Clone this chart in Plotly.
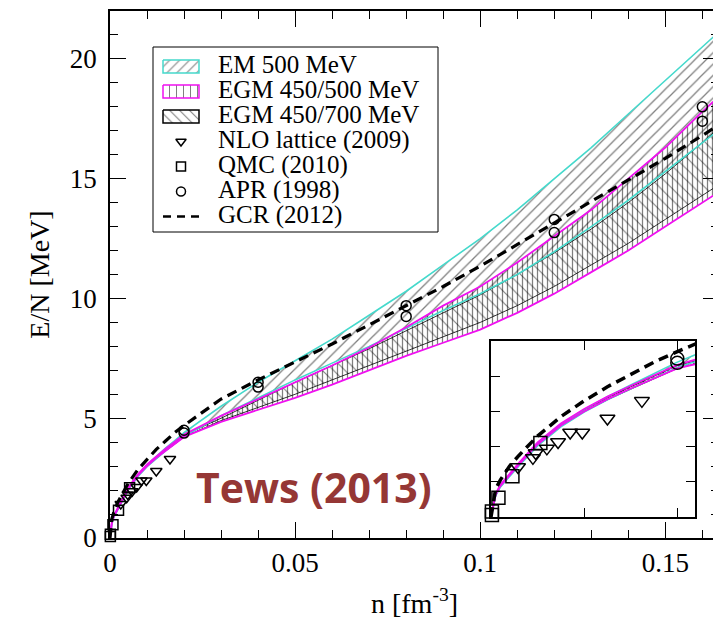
import plotly.graph_objects as go

# ---------------- data ----------------
n_grid = [0, 0.0005, 0.001, 0.002, 0.003, 0.005, 0.0075, 0.01, 0.0125, 0.015, 0.0175, 0.02,
          0.03, 0.04, 0.05, 0.06, 0.07, 0.08, 0.09, 0.10, 0.11, 0.12, 0.13, 0.14, 0.15, 0.16, 0.165]

em_upper = [0, 0.62, 0.88, 1.20, 1.50, 2.08, 2.62, 3.05, 3.42, 3.75, 4.07, 4.40,
            5.5, 6.5, 7.4, 8.3, 9.3, 10.3, 11.4, 12.5, 13.7, 15.0, 16.3, 17.7, 19.1, 20.5, 21.2]
em_lower = [0, 0.60, 0.85, 1.16, 1.45, 2.02, 2.56, 2.98, 3.33, 3.64, 3.95, 4.25,
            5.1, 5.85, 6.6, 7.3, 8.0, 8.75, 9.5, 10.2, 11.0, 11.95, 13.0, 14.1, 15.3, 16.5, 17.1]
egm500_upper = [0, 0.66, 0.92, 1.24, 1.54, 2.12, 2.66, 3.07, 3.42, 3.73, 4.02, 4.32,
                5.1, 5.8, 6.5, 7.2, 7.95, 8.8, 9.7, 10.5, 11.5, 12.6, 13.7, 15.0, 16.3, 17.8, 18.5]
egm500_lower = [0, 0.63, 0.88, 1.19, 1.49, 2.06, 2.60, 3.00, 3.35, 3.65, 3.94, 4.22,
                4.85, 5.35, 5.85, 6.4, 7.0, 7.6, 8.15, 8.7, 9.4, 10.2, 11.1, 12.0, 13.0, 14.0, 14.5]
egm700_upper = [0, 0.64, 0.90, 1.21, 1.51, 2.09, 2.63, 3.04, 3.39, 3.70, 4.00, 4.30,
                5.0, 5.75, 6.5, 7.2, 7.9, 8.65, 9.4, 10.15, 11.0, 11.9, 12.9, 14.0, 15.2, 16.5, 17.2]
egm700_lower = [0, 0.62, 0.87, 1.18, 1.47, 2.04, 2.58, 2.99, 3.33, 3.63, 3.92, 4.22,
                4.9, 5.45, 6.0, 6.6, 7.2, 7.8, 8.4, 9.0, 9.7, 10.5, 11.4, 12.3, 13.3, 14.3, 14.8]
gcr = [0, 0.80, 1.05, 1.45, 1.75, 2.30, 2.85, 3.30, 3.70, 4.05, 4.40, 4.70,
       5.8, 6.6, 7.35, 8.1, 8.9, 9.7, 10.5, 11.35, 12.25, 13.15, 14.05, 14.95, 15.85, 16.8, 17.3]

nlo_n = [0.0029, 0.0045, 0.0048, 0.0060, 0.0072, 0.0085, 0.0098, 0.0125, 0.0162]
nlo_e = [1.42, 1.68, 1.82, 1.95, 2.13, 2.40, 2.40, 2.80, 3.30]
qmc_n = [0.0001, 0.0001, 0.0008, 0.0023, 0.0053]
qmc_e = [0.06, 0.16, 0.55, 1.16, 2.10]
apr_n = [0.02, 0.02, 0.04, 0.04, 0.08, 0.08, 0.12, 0.12, 0.16, 0.16]
apr_e = [4.38, 4.50, 6.30, 6.50, 9.25, 9.70, 12.75, 13.30, 17.40, 18.00]

x_tickvals = [0, 0.05, 0.1, 0.15]
x_ticktext = ["0", "0.05", "0.1", "0.15"]
y_tickvals = [0, 5, 10, 15, 20]
inset_x_ticks = [0.01, 0.02]
inset_y_ticks = [1, 2, 3, 4]

legend_labels = ["EM 500 MeV", "EGM 450/500 MeV", "EGM 450/700 MeV",
                 "NLO lattice (2009)", "QMC (2010)", "APR (1998)", "GCR (2012)"]

CYAN = "#45D9CC"
MAGENTA = "#F010F0"
SERIF = "Liberation Serif"

fig = go.Figure()

def add_band(lo, hi, pattern, size, solidity, xa, ya):
    fig.add_trace(go.Scatter(x=n_grid, y=lo, mode="lines", line=dict(width=0, color="rgba(0,0,0,0)"),
                             xaxis=xa, yaxis=ya, showlegend=False, hoverinfo="skip"))
    fig.add_trace(go.Scatter(x=n_grid, y=hi, mode="lines", line=dict(width=0, color="rgba(0,0,0,0)"),
                             fill="tonexty", fillcolor="rgba(0,0,0,0)",
                             fillpattern=dict(shape=pattern, fgcolor="black", bgcolor="rgba(0,0,0,0)",
                                              size=size, solidity=solidity),
                             xaxis=xa, yaxis=ya, showlegend=False, hoverinfo="skip"))

def add_line(y, color, width, xa, ya, dash=None):
    fig.add_trace(go.Scatter(x=n_grid, y=y, mode="lines",
                             line=dict(color=color, width=width, dash=dash),
                             xaxis=xa, yaxis=ya, showlegend=False, hoverinfo="skip"))

def add_markers(xs, ys, symbol, size, xa, ya, xmax=None):
    if xmax is not None:
        pts = [(a, b) for a, b in zip(xs, ys) if a <= xmax]
        xs = [p[0] for p in pts]
        ys = [p[1] for p in pts]
    fig.add_trace(go.Scatter(x=xs, y=ys, mode="markers", cliponaxis=False,
                             marker=dict(symbol=symbol, size=size, color="black",
                                         line=dict(color="black", width=1.5)),
                             xaxis=xa, yaxis=ya, showlegend=False, hoverinfo="skip"))

for xa, ya, msize, xmax in (("x", "y", 10, None), ("x2", "y2", 13, 0.022)):
    add_band(egm700_lower, egm700_upper, "\\", 8, 0.14, xa, ya)
    add_band(egm500_lower, egm500_upper, "|", 5, 0.25, xa, ya)
    add_band(em_lower, em_upper, "/", 8, 0.16, xa, ya)
    add_line(egm700_lower, "black", 0.8, xa, ya)
    add_line(egm700_upper, "black", 0.8, xa, ya)
    add_line(em_lower, CYAN, 1.6, xa, ya)
    add_line(em_upper, CYAN, 1.6, xa, ya)
    add_line(egm500_lower, MAGENTA, 1.8, xa, ya)
    add_line(egm500_upper, MAGENTA, 1.8, xa, ya)
    add_line(gcr, "black", 3.2 if xa == "x" else 3.5, xa, ya, dash="10px,6px")
    add_markers(nlo_n, nlo_e, "triangle-down-open", msize, xa, ya, xmax)
    add_markers(qmc_n, qmc_e, "square-open", msize, xa, ya, xmax)
    add_markers(apr_n, apr_e, "circle-open", msize, xa, ya, xmax)

# ---------------- legend (drawn on a pixel helper axis) ----------------
row0, drow = 66.5, 25.0
ix0, ix1 = 163, 199
legend_specs = [("box", CYAN, "/"), ("box", MAGENTA, "|"), ("box", "black", "\\"),
                ("m", "triangle-down-open", None), ("m", "square-open", None),
                ("m", "circle-open", None), ("dash", None, None)]
for i, (kind, a, b) in enumerate(legend_specs):
    yc = row0 + i * drow
    if kind == "box":
        fig.add_trace(go.Scatter(x=[ix0, ix1, ix1, ix0, ix0], y=[yc - 6.5, yc - 6.5, yc + 6.5, yc + 6.5, yc - 6.5],
                                 mode="lines", fill="toself", fillcolor="rgba(0,0,0,0)",
                                 fillpattern=dict(shape=b, fgcolor="black", bgcolor="white", size=7, solidity=0.15),
                                 line=dict(color=a, width=1.5), xaxis="x3", yaxis="y3",
                                 showlegend=False, hoverinfo="skip"))
    elif kind == "m":
        fig.add_trace(go.Scatter(x=[181], y=[yc], mode="markers",
                                 marker=dict(symbol=a, size=9, color="black",
                                             line=dict(color="black", width=1.5)),
                                 xaxis="x3", yaxis="y3", showlegend=False, hoverinfo="skip"))
    else:
        fig.add_trace(go.Scatter(x=[ix0, ix1 + 1], y=[yc, yc], mode="lines",
                                 line=dict(color="black", width=2.5, dash="8px,6px"),
                                 xaxis="x3", yaxis="y3", showlegend=False, hoverinfo="skip"))
    fig.add_annotation(x=216, y=yc - 2, xref="x3", yref="y3", text=legend_labels[i], showarrow=False,
                       xanchor="left", yanchor="middle", font=dict(family=SERIF, size=25, color="black"))

fig.add_shape(type="rect", xref="x3", yref="y3", x0=153, x1=438, y0=47, y1=232,
              line=dict(color="black", width=1), fillcolor="white", layer="below")

fig.add_annotation(x=314, y=487, xref="x3", yref="y3", text="<b>Tews (2013)</b>", showarrow=False,
                   xanchor="center", yanchor="middle",
                   font=dict(family="Open Sans", size=41, color="#953735"))

axis_common = dict(showgrid=False, zeroline=False, showline=True, linecolor="black", linewidth=1.5,
                   mirror="ticks", ticks="inside", tickcolor="black", tickwidth=1.2, ticklen=16,
                   automargin=False)

# page body has an 8px default margin, so the figure is offset by 8px in the window
fig.update_layout(
    width=713, height=613,
    margin=dict(l=102, r=2, t=3, b=83),
    paper_bgcolor="white", plot_bgcolor="rgba(0,0,0,0)",
    showlegend=False,
    xaxis=dict(domain=[0, 1], range=[0, 0.1645], tickvals=x_tickvals, ticktext=x_ticktext,
               minor=dict(dtick=0.01, tick0=0, ticks="inside", ticklen=8, tickcolor="black", tickwidth=1.2),
               tickfont=dict(family=SERIF, size=27, color="black"),
               title=dict(text="n [fm<sup>-3</sup>]", font=dict(family=SERIF, size=28, color="black"), standoff=16),
               anchor="y", **axis_common),
    yaxis=dict(domain=[0, 1], range=[0, 22], tickvals=y_tickvals,
               minor=dict(dtick=1, tick0=0, ticks="inside", ticklen=8, tickcolor="black", tickwidth=1.2),
               tickfont=dict(family=SERIF, size=27, color="black"), ticklabelstandoff=6,
               title=dict(text="E/N [MeV]", font=dict(family=SERIF, size=28, color="black"), standoff=12),
               anchor="x", **axis_common),
    xaxis2=dict(domain=[0.6256, 0.9606], range=[0, 0.0219], tickvals=inset_x_ticks, showticklabels=False,
                anchor="y2", showgrid=False, zeroline=False, showline=True, linecolor="black", linewidth=1.5,
                mirror="ticks", ticks="inside", tickcolor="black", tickwidth=1.2, ticklen=9, automargin=False),
    yaxis2=dict(domain=[0.0398, 0.3738], range=[0, 5], tickvals=inset_y_ticks, showticklabels=False,
                anchor="x2", showgrid=False, zeroline=False, showline=True, linecolor="black", linewidth=1.5,
                mirror="ticks", ticks="inside", tickcolor="black", tickwidth=1.2, ticklen=9, automargin=False),
    xaxis3=dict(domain=[0, 1], range=[110, 719], visible=False, anchor="y3", fixedrange=True),
    yaxis3=dict(domain=[0, 1], range=[538, 11], visible=False, anchor="x3", fixedrange=True),
)

fig.write_html("out.html")
